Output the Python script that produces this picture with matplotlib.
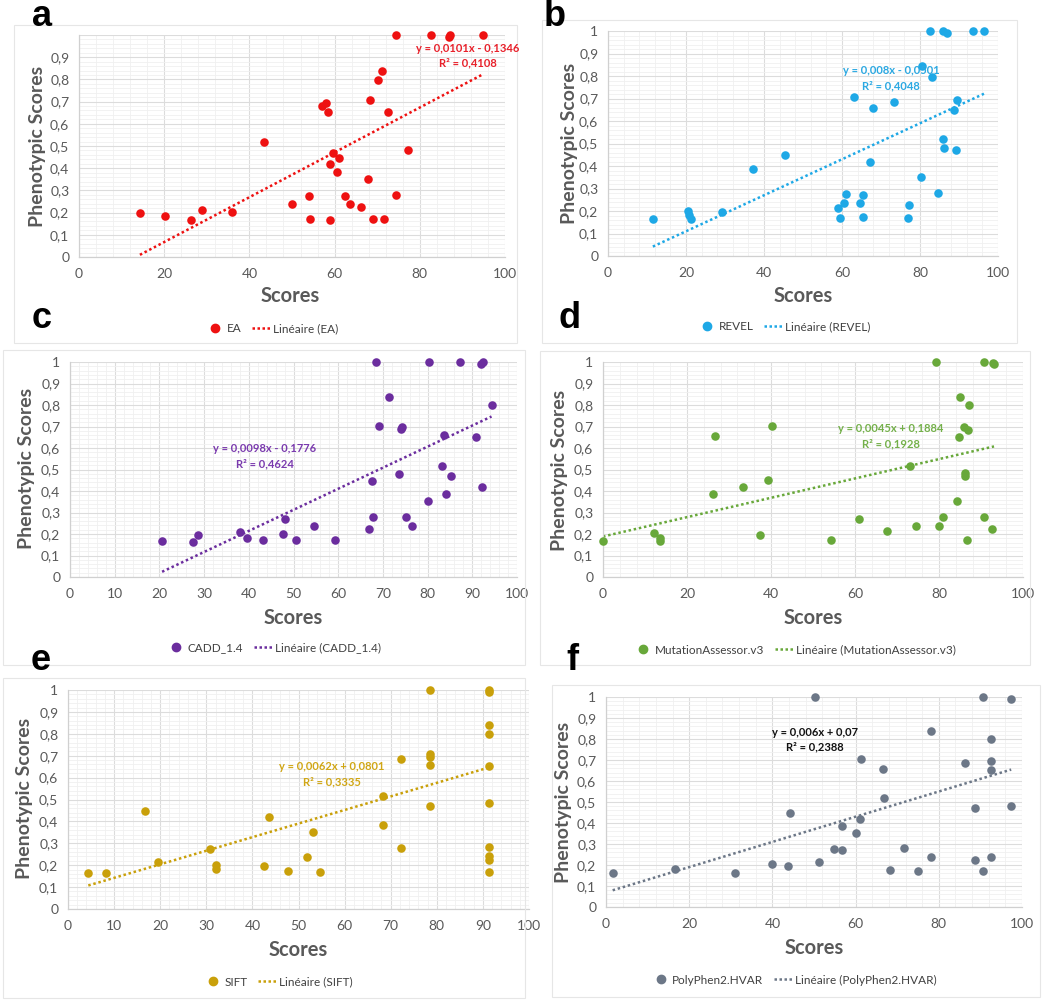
import matplotlib
matplotlib.use('Agg')
import matplotlib.pyplot as plt
from matplotlib.lines import Line2D
from matplotlib.patches import Rectangle
from matplotlib.ticker import MultipleLocator, AutoMinorLocator
import numpy as np

plt.rcParams['font.family'] = ['Lato', 'DejaVu Sans']

# ---------------- DATA ----------------
ea_x = [14.3, 20.1, 26.2, 28.9, 35.8, 43.5, 50.1, 54.0, 54.2, 57.0, 57.9, 58.4, 58.9, 58.9, 59.6,
        60.5, 61.0, 62.5, 63.5, 66.2, 67.8, 68.4, 69.1, 70.1, 71.2, 71.6, 72.6, 74.4, 74.4, 77.3,
        82.6, 86.8, 87.0, 94.8]
ea_y = [0.197, 0.183, 0.165, 0.212, 0.204, 0.516, 0.239, 0.273, 0.172, 0.682, 0.693, 0.654, 0.165, 0.42, 0.468,
        0.384, 0.445, 0.277, 0.239, 0.225, 0.35, 0.705, 0.172, 0.796, 0.837, 0.172, 0.652, 0.28, 1.0, 0.481,
        1.0, 0.99, 1.0, 1.0]
ea_fit = (0.0101, -0.1346)
ea_eq = ["y = 0,0101x - 0,1346", "R² = 0,4108"]

revel_x = [11.5, 20.4, 20.8, 21.2, 29.2, 37.1, 45.4, 59.1, 59.6, 60.5, 61.0, 63.2, 64.6, 65.5, 65.5,
           67.2, 68.0, 73.4, 77.0, 77.1, 80.3, 80.5, 82.6, 83.1, 84.5, 85.8, 85.8, 86.1, 87.0, 88.6,
           89.3, 89.6, 93.5, 96.4]
revel_y = [0.164, 0.201, 0.182, 0.166, 0.195, 0.385, 0.45, 0.212, 0.17, 0.237, 0.277, 0.705, 0.237, 0.272, 0.173,
           0.419, 0.659, 0.685, 0.17, 0.225, 0.351, 0.844, 1.0, 0.796, 0.28, 1.0, 0.518, 0.481, 0.989, 0.651,
           0.471, 0.694, 1.0, 1.0]
revel_fit = (0.008, -0.0501)
revel_eq = ["y = 0,008x - 0,0501", "R² = 0,4048"]

cadd_x = [20.6, 27.6, 28.6, 38.0, 39.6, 43.1, 47.7, 48.0, 50.6, 54.6, 59.2, 67.0, 67.5, 67.8, 68.4,
          69.2, 71.3, 73.7, 74.1, 74.3, 75.1, 76.5, 80.0, 80.3, 83.2, 83.7, 84.2, 85.2, 87.2, 90.8,
          91.9, 92.4, 92.2, 94.3]
cadd_y = [0.166, 0.164, 0.197, 0.211, 0.181, 0.172, 0.202, 0.271, 0.171, 0.237, 0.171, 0.223, 0.448, 0.279, 1.0,
          0.704, 0.839, 0.481, 0.687, 0.696, 0.278, 0.237, 0.352, 1.0, 0.516, 0.659, 0.386, 0.47, 1.0, 0.653,
          0.989, 0.998, 0.42, 0.8]
cadd_fit = (0.0098, -0.1776)
cadd_eq = ["y = 0,0098x - 0,1776", "R² = 0,4624"]

ma_x = [0.0, 12.1, 13.5, 13.5, 26.3, 26.7, 33.3, 37.4, 39.2, 40.3, 54.4, 61.0, 67.5, 73.1, 74.5,
        79.3, 80.0, 81.0, 84.2, 84.8, 85.0, 86.0, 86.1, 86.3, 86.6, 86.9, 87.1, 90.6, 90.7, 92.7,
        92.9, 93.1]
ma_y = [0.167, 0.205, 0.183, 0.166, 0.386, 0.657, 0.42, 0.197, 0.451, 0.704, 0.171, 0.271, 0.212, 0.516, 0.237,
        0.998, 0.237, 0.281, 0.352, 0.651, 0.839, 0.698, 0.482, 0.47, 0.172, 0.685, 0.8, 0.278, 0.998, 0.225,
        0.994, 0.99]
ma_fit = (0.0045, 0.1884)
ma_eq = ["y = 0,0045x + 0,1884", "R² = 0,1928"]

sift_x = [4.4, 8.2, 16.6, 19.5, 30.9, 32.2, 32.2, 42.6, 43.7, 47.8, 51.9, 53.1, 54.7, 68.3, 68.3,
          72.3, 72.3, 78.5, 78.5, 78.5, 78.5, 78.5, 91.3, 91.3, 91.3, 91.3, 91.3, 91.3, 91.3, 91.3,
          91.3, 91.3]
sift_y = [0.165, 0.165, 0.449, 0.214, 0.273, 0.202, 0.184, 0.196, 0.42, 0.175, 0.238, 0.352, 0.17, 0.517, 0.385,
          0.686, 0.278, 1.0, 0.706, 0.695, 0.659, 0.47, 1.0, 0.989, 0.84, 0.8, 0.652, 0.483, 0.281, 0.24,
          0.223, 0.17]
sift_fit = (0.0062, 0.0801)
sift_eq = ["y = 0,0062x + 0,0801", "R² = 0,3335"]

pp_x = [1.6, 16.6, 31.1, 40.0, 43.7, 44.3, 50.2, 51.2, 54.9, 56.8, 56.8, 60.0, 61.1, 61.3, 66.7,
        66.9, 68.3, 71.6, 74.9, 78.1, 78.1, 86.2, 88.6, 88.6, 90.6, 90.6, 92.5, 92.5, 92.5, 92.5,
        97.4, 97.4]
pp_y = [0.164, 0.183, 0.162, 0.204, 0.196, 0.449, 1.0, 0.212, 0.275, 0.271, 0.385, 0.352, 0.419, 0.704, 0.658,
        0.518, 0.174, 0.279, 0.17, 0.839, 0.237, 0.686, 0.226, 0.471, 1.0, 0.17, 0.8, 0.696, 0.654, 0.237,
        0.99, 0.482]
pp_fit = (0.006, 0.07)
pp_eq = ["y = 0,006x + 0,07", "R² = 0,2388"]

names = ["EA", "REVEL", "CADD_1.4", "MutationAssessor.v3", "SIFT", "PolyPhen2.HVAR"]
letters = ["a", "b", "c", "d", "e", "f"]
ytick_vals = [0, 0.1, 0.2, 0.3, 0.4, 0.5, 0.6, 0.7, 0.8, 0.9, 1.0]
ytick_text = ["0", "0,1", "0,2", "0,3", "0,4", "0,5", "0,6", "0,7", "0,8", "0,9", "1"]

# ---------------- LAYOUT / STYLE ----------------
W, H = 1050, 1001
fig = plt.figure(figsize=(W / 100, H / 100), dpi=100)
fig.patch.set_facecolor('white')

def fx(x):
    return x / W

def fy(y):
    return 1 - y / H

panels = [
    dict(x=ea_x, y=ea_y, fit=ea_fit, eq=ea_eq, color='#EE1111', eqcolor='#E8202A',
         box=(79, 505, 257, 35), xmajor=20, show1=False,
         eqpos=(468, 48), ylab=(38, 146), xlab=(290, 296), leg=(272, 329),
         letter=(42, 17), frame=(14, 517, 25, 343)),
    dict(x=revel_x, y=revel_y, fit=revel_fit, eq=revel_eq, color='#1EA8E6', eqcolor='#2AA8E2',
         box=(608, 998, 256, 31), xmajor=20, show1=True,
         eqpos=(891, 71), ylab=(570, 143), xlab=(803, 296), leg=(784, 327),
         letter=(555, 17), frame=(542, 1017, 20, 343)),
    dict(x=cadd_x, y=cadd_y, fit=cadd_fit, eq=cadd_eq, color='#6B2D9E', eqcolor='#7A3AAE',
         box=(70, 517, 577, 362), xmajor=10, show1=True,
         eqpos=(265, 449), ylab=(27, 468), xlab=(293, 618), leg=(274, 648),
         letter=(42, 319), frame=(3, 525, 350, 665)),
    dict(x=ma_x, y=ma_y, fit=ma_fit, eq=ma_eq, color='#68A83A', eqcolor='#74B04A',
         box=(603, 1023, 577, 362), xmajor=20, show1=True,
         eqpos=(891, 429), ylab=(560, 470), xlab=(813, 618), leg=(795, 650),
         letter=(570, 319), frame=(540, 1030, 351, 665)),
    dict(x=sift_x, y=sift_y, fit=sift_fit, eq=sift_eq, color='#C9A00A', eqcolor='#D0A615',
         box=(68, 529, 909, 690), xmajor=10, show1=True,
         eqpos=(332, 767), ylab=(25, 798), xlab=(298, 950), leg=(278, 982),
         letter=(41, 660), frame=(3, 525, 678, 998)),
    dict(x=pp_x, y=pp_y, fit=pp_fit, eq=pp_eq, color='#6C7787', eqcolor='#111111',
         box=(606, 1022, 907, 697), xmajor=20, show1=True,
         eqpos=(815, 732), ylab=(563, 802), xlab=(814, 948), leg=(794, 980),
         letter=(572, 660), frame=(552, 1040, 685, 997)),
]

tick_color = '#595959'
label_color = '#595959'

for i, p in enumerate(panels):
    # chart frame
    fl, fr, ft, fb = p['frame']
    fig.patches.append(Rectangle((fx(fl), fy(fb)), (fr - fl) / W, (fb - ft) / H,
                                 transform=fig.transFigure, fill=False,
                                 ec='#e6e6e6', lw=0.8, zorder=0))
    x0, x1, y0, y1 = p['box']
    ax = fig.add_axes([fx(x0), fy(y0), (x1 - x0) / W, (y0 - y1) / H])
    ax.set_facecolor('none')
    ax.set_xlim(0, 100)
    ax.set_ylim(0, 1)
    ax.xaxis.set_major_locator(MultipleLocator(p['xmajor']))
    ax.xaxis.set_minor_locator(AutoMinorLocator(5))
    ax.set_yticks(ytick_vals)
    labels = list(ytick_text)
    if not p['show1']:
        labels[-1] = ""
    ax.set_yticklabels(labels)
    ax.yaxis.set_minor_locator(AutoMinorLocator(5))
    ax.grid(which='major', color='#dcdcdc', lw=0.8, zorder=0)
    ax.grid(which='minor', color='#f0f0f0', lw=0.6, zorder=0)
    ax.set_axisbelow(True)
    for s in ['top', 'right']:
        ax.spines[s].set_visible(False)
    for s in ['bottom', 'left']:
        ax.spines[s].set_color('#d0d0d0')
        ax.spines[s].set_linewidth(0.9)
    ax.tick_params(which='both', length=0, labelsize=10, colors=tick_color)
    ax.tick_params(axis='x', pad=8)
    ax.tick_params(axis='y', pad=7)

    ax.scatter(p['x'], p['y'], s=38, color=p['color'], zorder=3, clip_on=False, linewidths=0)
    slope, icpt = p['fit']
    xs = np.array([min(p['x']), max(p['x'])])
    ax.plot(xs, slope * xs + icpt, ls=(0, (1, 1.1)), lw=1.8, color=p['color'], zorder=2)

    ex, ey = p['eqpos']
    fig.text(fx(ex), fy(ey), p['eq'][0], ha='center', va='center', fontsize=8,
             fontweight='bold', color=p['eqcolor'])
    fig.text(fx(ex), fy(ey + 15), p['eq'][1], ha='center', va='center', fontsize=8,
             fontweight='bold', color=p['eqcolor'])

    lx, ly = p['ylab']
    fig.text(fx(lx), fy(ly), "Phenotypic Scores", rotation=90, ha='center', va='center',
             fontsize=14, fontweight='bold', color=label_color)
    sx, sy = p['xlab']
    fig.text(fx(sx), fy(sy), "Scores", ha='center', va='center',
             fontsize=14.5, fontweight='bold', color=label_color)

    handles = [Line2D([], [], marker='o', ls='', color=p['color'], markersize=6),
               Line2D([], [], ls=(0, (1, 1.0)), lw=1.8, color=p['color'])]
    labs = [names[i], f"Linéaire ({names[i]})"]
    gx, gy = p['leg']
    fig.legend(handles, labs, loc='center', bbox_to_anchor=(fx(gx), fy(gy)), ncol=2,
               frameon=False, fontsize=8.5, handlelength=1.6, columnspacing=0.9,
               handletextpad=0.2, labelcolor='#404040', borderaxespad=0)

    tx, ty = p['letter']
    fig.text(fx(tx), fy(ty), letters[i], ha='center', va='center', fontsize=26,
             fontweight='bold', color='black', family=['Liberation Sans', 'DejaVu Sans'])

fig.savefig('out.png', dpi=100, facecolor='white')
